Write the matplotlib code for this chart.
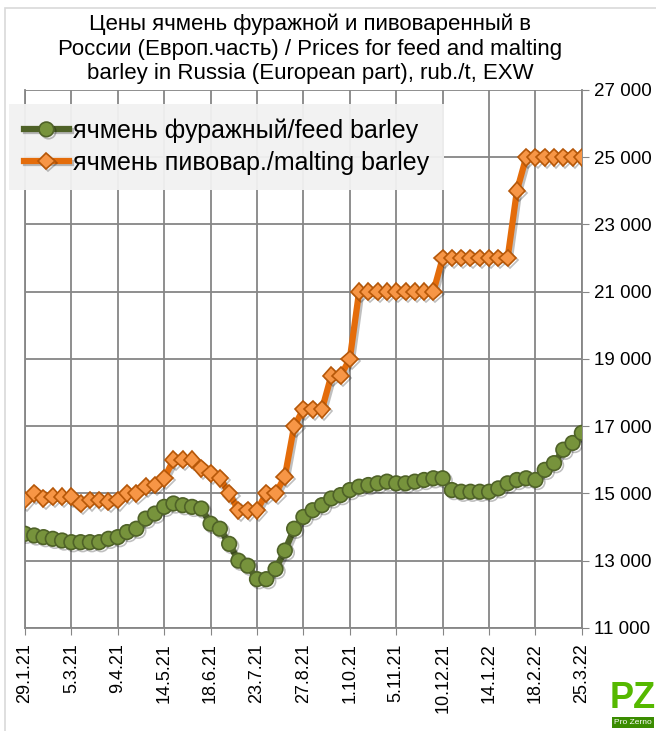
import matplotlib.pyplot as plt
import matplotlib.patheffects as pe
from matplotlib.patches import Rectangle
from matplotlib.ticker import FuncFormatter

plt.rcParams['font.family'] = ['Liberation Sans', 'DejaVu Sans']

# weekly prices, rub./t, 29.1.21 .. 25.3.22
feed = [13800, 13750, 13700, 13650, 13600, 13550, 13550, 13550, 13550, 13650,
        13700, 13850, 13950, 14250, 14400, 14600, 14700, 14650, 14600, 14550,
        14100, 13950, 13500, 13000, 12850, 12450, 12450, 12750, 13300, 13950,
        14300, 14500, 14650, 14850, 14950, 15100, 15200, 15250, 15300, 15350,
        15300, 15300, 15350, 15400, 15450, 15450, 15100, 15050, 15050, 15050,
        15050, 15150, 15300, 15400, 15450, 15400, 15700, 15900, 16300, 16500,
        16800]
malting = [14800, 15000, 14850, 14900, 14900, 14900, 14700, 14800, 14800, 14750,
           14800, 15000, 15000, 15200, 15250, 15450, 16000, 16000, 16000, 15750,
           15600, 15450, 15000, 14500, 14500, 14500, 15000, 15000, 15500, 17000,
           17500, 17500, 17500, 18500, 18500, 19000, 21000, 21000, 21000, 21000,
           21000, 21000, 21000, 21000, 21000, 22000, 22000, 22000, 22000, 22000,
           22000, 22000, 22000, 24000, 25000, 25000, 25000, 25000, 25000, 25000,
           25000]
tick_labels = ['29.1.21', '5.3.21', '9.4.21', '14.5.21', '18.6.21', '23.7.21',
               '27.8.21', '1.10.21', '5.11.21', '10.12.21', '14.1.22', '18.2.22',
               '25.3.22']

title = ('Цены ячмень фуражной и пивоваренный в\n'
         'России (Европ.часть) / Prices for feed and malting\n'
         'barley in Russia (European part), rub./t, EXW')

fig = plt.figure(figsize=(6.56, 7.31), dpi=100)
ax = fig.add_axes([0.038, 0.141, 0.849, 0.736])

x = list(range(len(feed)))
shadow = [pe.SimpleLineShadow(offset=(1.5, -1.5), alpha=0.25), pe.Normal()]

ax.plot(x, feed, color='#4f6228', lw=4.5, marker='o', ms=10.5,
        mfc='#77933c', mec='#4f6228', mew=1.2,
        label='ячмень фуражный/feed barley', path_effects=shadow, zorder=3)
ax.plot(x, malting, color='#e46c0a', lw=4.5, marker='D', ms=8.5,
        mfc='#f79646', mec='#b65708', mew=1.2,
        label='ячмень пивовар./malting barley', path_effects=shadow, zorder=3)

ax.set_xlim(0, 60)
ax.set_ylim(11000, 27000)
ax.set_yticks(range(11000, 27001, 2000))
ax.yaxis.set_major_formatter(FuncFormatter(lambda v, p: f'{int(v):,}'.replace(',', ' ')))
ax.yaxis.tick_right()
ax.set_xticks(range(0, 61, 5))
ax.set_xticklabels(tick_labels, rotation=90)
ax.tick_params(axis='x', labelsize=13, length=5, color='#868686', pad=6)
ax.tick_params(axis='y', labelsize=13.5, length=5, color='#868686', pad=4)
ax.grid(True, color='#868686', lw=1.3)
ax.set_axisbelow(True)
for s in ax.spines.values():
    s.set_color('#868686')
    s.set_linewidth(1.3)
ax.spines['top'].set_visible(False)

fig.text(0.473, 0.981, title, ha='center', va='top', fontsize=16,
         linespacing=1.22)

leg = ax.legend(loc='upper left', bbox_to_anchor=(0.025, 0.848),
                bbox_transform=fig.transFigure, fontsize=18, frameon=True,
                handlelength=1.8, handletextpad=0.15, borderaxespad=0,
                labelspacing=0.3, borderpad=0.3)
leg.get_frame().set_facecolor('#f2f2f2')
leg.get_frame().set_edgecolor('none')
leg.get_frame().set_alpha(0.95)
leg.get_frame().set_boxstyle('square')

# chart border
fig.patches.append(Rectangle((0.008, -0.01), 1.0, 0.999, transform=fig.transFigure,
                             fill=False, edgecolor='#d9d9d9', lw=1.2))

# logo
fig.text(0.965, 0.045, 'PZ', color='#55b800', fontsize=26, fontweight='bold',
         ha='center', va='center')
fig.text(0.965, 0.012, 'Pro Zerno', color='white', fontsize=6, ha='center',
         va='center', bbox=dict(facecolor='#3a8c00', edgecolor='none', pad=1.5))

fig.savefig('out.png', dpi=100)
